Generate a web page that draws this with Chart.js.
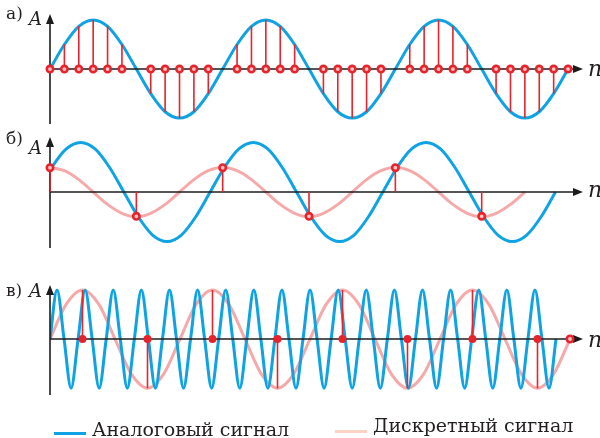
<!DOCTYPE html>
<html><head><meta charset="utf-8">
<script src="https://cdn.jsdelivr.net/npm/chart.js@4.4.1/dist/chart.umd.min.js"></script>
<style>
html,body{margin:0;padding:0;background:#fff;}
#wrap{position:relative;width:600px;height:438px;overflow:hidden;background:#fff;}
canvas{position:absolute;left:0;top:0;}
.lbl{position:absolute;font-family:"DejaVu Serif","Liberation Serif",serif;color:#231f20;white-space:nowrap;line-height:1;}
.it{font-style:italic;}
.sw{position:absolute;height:3px;}
</style></head><body>
<div id="wrap">
<canvas id="ca" width="600" height="438"></canvas>
<canvas id="cb" width="600" height="438"></canvas>
<canvas id="cc" width="600" height="438"></canvas>
<div class="lbl" style="left:6px;top:5px;font-size:17px">а)</div>
<div class="lbl it" style="left:29px;top:10px;font-size:18px">A</div>
<div class="lbl it" style="left:588px;top:58px;font-size:22px">n</div>
<div class="lbl" style="left:6px;top:130px;font-size:17px">б)</div>
<div class="lbl it" style="left:29px;top:139px;font-size:18px">A</div>
<div class="lbl it" style="left:588px;top:179px;font-size:22px">n</div>
<div class="lbl" style="left:6px;top:282px;font-size:17px">в)</div>
<div class="lbl it" style="left:29px;top:282px;font-size:18px">A</div>
<div class="lbl it" style="left:588px;top:329px;font-size:22px">n</div>
<div class="sw" style="left:54px;top:432px;width:32px;background:#0fa3e3"></div>
<div class="lbl" style="left:92px;top:420px;font-size:19px">Аналоговый сигнал</div>
<div class="sw" style="left:335px;top:430px;width:32px;background:#fcd2c6"></div>
<div class="lbl" style="left:373px;top:416px;font-size:19px">Дискретный сигнал</div>
</div>
<script>
// ---------- Panel а (x = sample index n) ----------
const analogA = [0,0.5,0.87,1,0.87,0.5,0,-0.5,-0.87,-1,-0.87,-0.5,
                 0,0.5,0.87,1,0.87,0.5,0,-0.5,-0.87,-1,-0.87,-0.5,
                 0,0.5,0.87,1,0.87,0.5,0,-0.5,-0.87,-1,-0.87,-0.5,0];
const dotsA = [0,1,2,3,4,5,7,8,9,10,11,13,14,15,16,17,19,20,21,22,23,25,26,27,28,29,31,32,33,34,35,36];

// ---------- Panel б ----------
const analogB = [0,0.5,0.87,1,0.87,0.5,0,-0.5,-0.87,-1,-0.87,-0.5,
                 0,0.5,0.87,1,0.87,0.5,0,-0.5,-0.87,-1,-0.87,-0.5,
                 0,0.5,0.87,1,0.87,0.5,0,-0.5,-0.87,-1,-0.87,-0.5,0];
const analogBStart = -0.87;
const discreteB = [0.5,0.43,0.25,0,-0.25,-0.43,-0.5,-0.43,-0.25,0,0.25,0.43,
                   0.5,0.43,0.25,0,-0.25,-0.43,-0.5,-0.43,-0.25,0,0.25,0.43,
                   0.5,0.43,0.25,0,-0.25,-0.43,-0.5,-0.43,-0.25,0];
const samplesBn = [0,6,12,18,24,30];
const samplesBv = [0.49,-0.49,0.49,-0.49,0.49,-0.49];

// ---------- Panel в (x = time t) ----------
const discreteC = [0,0.71,1,0.71,0,-0.71,-1,-0.71, 0,0.71,1,0.71,0,-0.71,-1,-0.71,
                   0,0.71,1,0.71,0,-0.71,-1,-0.71, 0,0.71,1,0.71,0,-0.71,-1,-0.71, 0];
const discreteCStep = 0.5;
const samplesCt = [1,3,5,7,9,11,13,15];
const samplesCv = [1,-1,1,-1,1,-1,1,-1];
const endDotC = 16;
const analogC = [0,1,0,-1, 0,1,0,-1, 0,1,0,-1, 0,1,0,-1, 0,1,0,-1, 0,1,0,-1,
                 0,1,0,-1, 0,1,0,-1, 0,1,0,-1, 0,1,0,-1, 0,1,0,-1, 0,1,0,-1,
                 0,1,0,-1, 0,1,0,-1, 0,1,0,-1, 0,1,0,-1, 0,1,0,-1, 0,1,0,-1, 0];
const analogCPeriod = 0.865;

// ---------- styles ----------
const BLUE = '#0fa3e3', PINK = '#f5a9a9', RED = '#e8232b', AXIS = '#1c1c1c';

const arrowAxes = {
  id: 'arrowAxes',
  beforeDatasetDraw(chart, args, opts) {
    if (args.index !== opts.index) return;
    const {ctx, chartArea: {left, right, top, bottom}, scales: {x, y}} = chart;
    const x0 = x.getPixelForValue(0), y0 = y.getPixelForValue(0);
    ctx.save();
    ctx.strokeStyle = AXIS; ctx.fillStyle = AXIS; ctx.lineWidth = 1.6;
    ctx.beginPath(); ctx.moveTo(x0, bottom); ctx.lineTo(x0, top + 6); ctx.stroke();
    ctx.beginPath(); ctx.moveTo(x0, top); ctx.lineTo(x0 - 4, top + 10); ctx.lineTo(x0 + 4, top + 10); ctx.closePath(); ctx.fill();
    ctx.beginPath(); ctx.moveTo(x0, y0); ctx.lineTo(right - 6, y0); ctx.stroke();
    ctx.beginPath(); ctx.moveTo(right, y0); ctx.lineTo(right - 10, y0 - 4); ctx.lineTo(right - 10, y0 + 4); ctx.closePath(); ctx.fill();
    ctx.restore();
  }
};

function stemData(xs, vs) {
  const d = [];
  xs.forEach((x, i) => { d.push({x, y: 0}, {x, y: vs[i]}, {x, y: null}); });
  return d;
}
function curve(data, color, order) {
  return {type: 'line', data, borderColor: color, borderWidth: 3, pointRadius: 0,
          cubicInterpolationMode: 'monotone', fill: false, clip: 0, order};
}
function stems(data, order) {
  return {type: 'line', data, borderColor: RED, borderWidth: 1.6, pointRadius: 0,
          tension: 0, spanGaps: false, fill: false, order};
}
function dots(data, fill, r, bw, order) {
  return {type: 'line', data, showLine: false, pointRadius: r, pointBorderWidth: bw,
          pointBorderColor: RED, pointBackgroundColor: fill, clip: 10, order};
}
function make(id, datasets, pad, xmax, ymin, ymax, axisIndex) {
  return new Chart(document.getElementById(id), {
    data: {datasets},
    options: {
      responsive: false, animation: false, events: [],
      layout: {padding: pad},
      plugins: {legend: {display: false}, tooltip: {enabled: false}, arrowAxes: {index: axisIndex}},
      scales: {
        x: {type: 'linear', display: false, min: 0, max: xmax},
        y: {type: 'linear', display: false, min: ymin, max: ymax}
      }
    },
    plugins: [arrowAxes]
  });
}

// Panel а
const stemsAn = analogA.map((v, n) => n).filter(n => analogA[n] !== 0);
make('ca', [
  dots(dotsA.map(n => ({x: n, y: 0})), '#ffc4c4', 3.2, 2.6, 0),
  stems(stemData(stemsAn, stemsAn.map(n => analogA[n])), 1),
  curve(analogA.map((v, n) => ({x: n, y: v})), BLUE, 3)
], {left: 50, right: 17, top: 14, bottom: 314}, 37.04, -1.12, 1.122, 1);

// Panel б
make('cb', [
  dots(samplesBn.map((n, i) => ({x: n, y: samplesBv[i]})), '#ffc4c4', 3.2, 2.6, 0),
  stems(stemData(samplesBn, samplesBv), 1),
  curve(analogB.map((v, i) => ({x: analogBStart + i, y: v})), BLUE, 2),
  curve(discreteB.map((v, n) => ({x: n, y: v})), PINK, 3)
], {left: 50, right: 17, top: 137, bottom: 190}, 37.04, -1.13, 1.11, 1);

// Panel в
make('cc', [
  dots(samplesCt.map(t => ({x: t, y: 0})), RED, 3.2, 1.5, 0),
  dots([{x: endDotC, y: 0}], '#ffc4c4', 3.2, 2.6, 0),
  stems(stemData(samplesCt, samplesCv), 1),
  curve(analogC.map((v, i) => ({x: i * analogCPeriod / 4, y: v})), BLUE, 2),
  curve(discreteC.map((v, i) => ({x: i * discreteCStep, y: v})), PINK, 3)
], {left: 50, right: 17, top: 285, bottom: 43}, 16.4, -1.14, 1.10, 2);
</script>
</body></html>
